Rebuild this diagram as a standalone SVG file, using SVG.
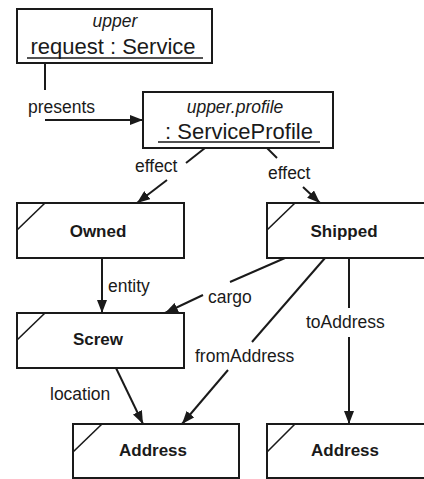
<svg xmlns="http://www.w3.org/2000/svg" width="424" height="479" viewBox="0 0 424 479">
<style>
.box{fill:#fff;stroke:#1a1a1a;stroke-width:2}
.diag{stroke:#1a1a1a;stroke-width:1.6}
.name{font-family:"Liberation Sans",Arial,sans-serif;font-size:17px;font-weight:bold;fill:#1a1a1a;text-anchor:middle}
.stereo{font-family:"Liberation Sans",Arial,sans-serif;font-size:17.5px;font-style:italic;fill:#1a1a1a;text-anchor:middle}
.inst{font-family:"Liberation Sans",Arial,sans-serif;font-size:22px;fill:#1a1a1a;text-anchor:middle}
.ul{stroke:#1a1a1a;stroke-width:1.6}
.lbl{font-family:"Liberation Sans",Arial,sans-serif;font-size:17.5px;fill:#1a1a1a}
.c{stroke:#1a1a1a;stroke-width:2;fill:none}
.a{marker-end:url(#arr)}
</style>
<defs>
<marker id="arr" markerUnits="userSpaceOnUse" markerWidth="14" markerHeight="10" refX="13" refY="5" orient="auto">
<path d="M0,0 L13,5 L0,10 z" fill="#1a1a1a"/>
</marker>
</defs>
<g id="connectors">
<path class="c" d="M45,63 V90"/>
<path class="c a" d="M45,120 H143"/>
<path class="c" d="M205,148 L186,163"/>
<path class="c a" d="M167,180 L137,203"/>
<path class="c" d="M267,148 L277,158"/>
<path class="c a" d="M303,187 L320,203"/>
<path class="c a" d="M102,258 V313"/>
<path class="c" d="M285,258 L230,282"/>
<path class="c a" d="M203,295 L165,313"/>
<path class="c" d="M325,258 L252,342"/>
<path class="c a" d="M228,370 L182,424"/>
<path class="c" d="M349,258 V308"/>
<path class="c a" d="M349,337 V424"/>
<path class="c a" d="M116,368 L143,424"/>
<text class="lbl" x="28" y="113">presents</text>
<text class="lbl" x="135" y="172">effect</text>
<text class="lbl" x="268" y="179">effect</text>
<text class="lbl" x="108" y="292">entity</text>
<text class="lbl" x="208" y="303">cargo</text>
<text class="lbl" x="306" y="328">toAddress</text>
<text class="lbl" x="195" y="362">fromAddress</text>
<text class="lbl" x="50" y="400">location</text>
</g>
<g id="request">
<rect class="box" x="17" y="9" width="195" height="54"/>
<text class="stereo" x="115" y="27">upper</text>
<text class="inst" x="113" y="54">request : Service</text>
<line class="ul" x1="27" y1="58" x2="203" y2="58"/>
</g>
<g id="serviceProfile">
<rect class="box" x="143" y="92" width="190" height="56"/>
<text class="stereo" x="235" y="113">upper.profile</text>
<text class="inst" x="239" y="139">: ServiceProfile</text>
<line class="ul" x1="158" y1="142" x2="320" y2="142"/>
</g>
<g id="owned">
<rect class="box" x="17" y="203" width="167" height="55"/>
<line class="diag" x1="45" y1="203" x2="17" y2="230"/>
<text class="name" x="98" y="237">Owned</text>
</g>
<g id="shipped">
<rect class="box" x="267" y="203" width="160" height="55"/>
<line class="diag" x1="295" y1="203" x2="267" y2="230"/>
<text class="name" x="344" y="237">Shipped</text>
</g>
<g id="screw">
<rect class="box" x="17" y="313" width="167" height="55"/>
<line class="diag" x1="45" y1="313" x2="17" y2="340"/>
<text class="name" x="98" y="345">Screw</text>
</g>
<g id="addressFrom">
<rect class="box" x="73" y="424" width="166" height="54"/>
<line class="diag" x1="102" y1="424" x2="73" y2="452"/>
<text class="name" x="153" y="456">Address</text>
</g>
<g id="addressTo">
<rect class="box" x="267" y="424" width="160" height="54"/>
<line class="diag" x1="295" y1="424" x2="267" y2="452"/>
<text class="name" x="345" y="456">Address</text>
</g>
</svg>
